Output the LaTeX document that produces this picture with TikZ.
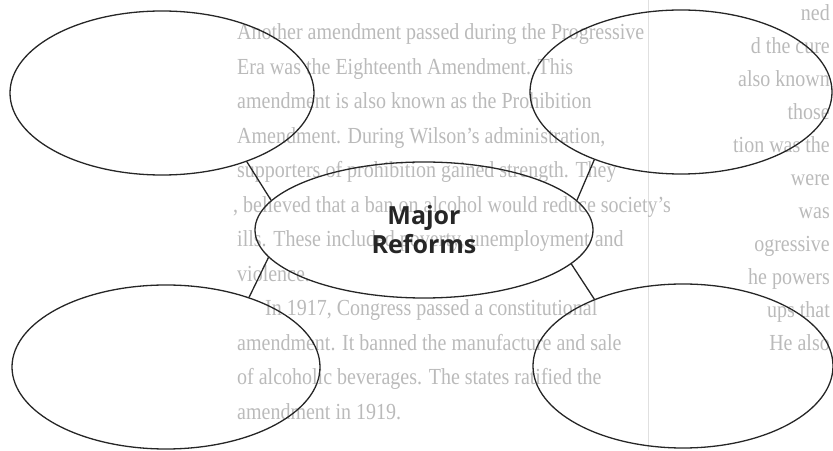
\documentclass[tikz,border=0pt]{standalone}
\usepackage{fontspec}
\usepackage{graphicx}
\setmainfont{Liberation Serif}
\newfontfamily\hubfont{Open Sans}
\usetikzlibrary{shapes.geometric}

\newcommand{\bgline}[1]{\scalebox{1}[1.15]{#1}}

\begin{document}
\begin{tikzpicture}[
    x=10pt, y=10pt,
    bubble/.style={draw=black!85, ellipse, line width=1.3pt, inner sep=0pt},
    link/.style={draw=black!85, line width=1.3pt},
    bgtext/.style={text=black!27, font=\fontsize{20}{20}\selectfont, inner sep=0pt},
    hub/.style={font=\hubfont\bfseries\fontsize{25}{29}\selectfont, text=black!85, align=center}
]
\useasboundingbox (0,0) rectangle (83.3,45);

% ---- Faint page text behind the organizer ----
\draw[black!12, line width=0.6pt] (64.8,0) -- (64.8,45);

\foreach \dx/\txt [count=\i] in {
    0/{Another amendment passed during the Progressive},
    0/{Era was the Eighteenth Amendment. This},
    0/{amendment is also known as the Prohibition},
    0/{Amendment. During Wilson's administration,},
    0/{supporters of prohibition gained strength. They},
    -0.4/{, believed that a ban on alcohol would reduce society's},
    0/{ills. These included poverty, unemployment and},
    0/{violence.},
    2.8/{In 1917, Congress passed a constitutional},
    0/{amendment. It banned the manufacture and sale},
    0/{of alcoholic beverages. The states ratified the},
    0/{amendment in 1919.}}
    \node[bgtext, anchor=base west] (line\i) at ({23.7+\dx}, {41.0-3.45*(\i-1)}) {\bgline{\txt}};

\foreach \txt [count=\i] in {ned, d the cure, also known, those, tion was the,
    were, was, ogressive, he powers, ups that, He also}
    \node[bgtext, anchor=base east] (side\i) at (83.0, {42.9-3.3*(\i-1)}) {\bgline{\txt}};

% ---- Bubbles ----
\node[bubble, minimum width=304pt, minimum height=164pt] (tl) at (16.2,35.7) {};
\node[bubble, minimum width=302pt, minimum height=164pt] (tr) at (68.1,35.8) {};
\node[bubble, hub, minimum width=338pt, minimum height=136pt] (major) at (42.4,22.0) {Major\\Reforms};
\node[bubble, minimum width=308pt, minimum height=164pt] (bl) at (16.6,8.3) {};
\node[bubble, minimum width=300pt, minimum height=164pt] (br) at (68.3,8.4) {};

% ---- Links ----
\draw[link] (major.169) -- (tl.-39);
\draw[link] (major.11) -- (tr.-142);
\draw[link] (major.-170) -- (bl.40);
\draw[link] (major.-13) -- (br.143);

\end{tikzpicture}
\end{document}
